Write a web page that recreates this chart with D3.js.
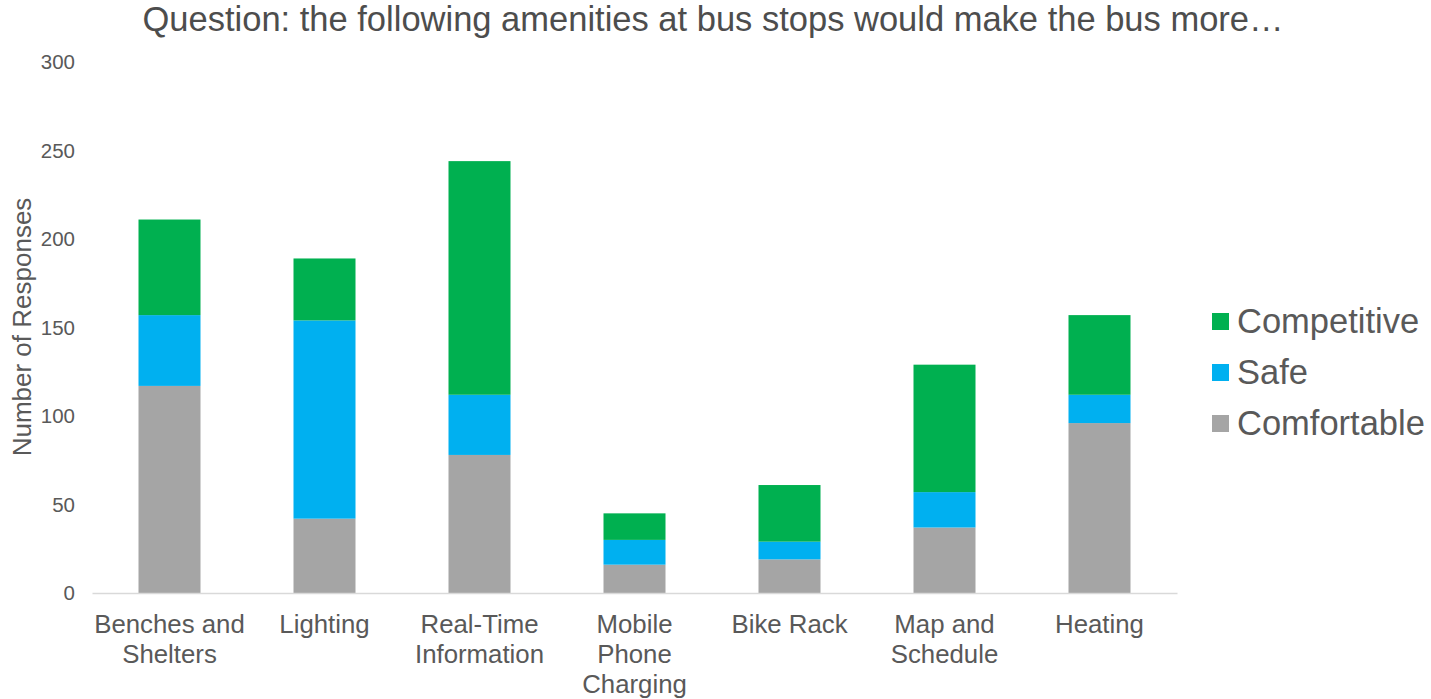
<!DOCTYPE html>
<html>
<head>
<meta charset="utf-8">
<script src="https://cdn.jsdelivr.net/npm/d3@7"></script>
<style>
  body { margin: 0; background: #fff; }
  svg { font-family: "Liberation Sans", Arial, sans-serif; }
</style>
</head>
<body>
<div id="chart"></div>
<script>
// data
const categories = ["Benches and Shelters", "Lighting", "Real-Time Information",
  "Mobile Phone Charging", "Bike Rack", "Map and Schedule", "Heating"];
const categoryLines = [["Benches and", "Shelters"], ["Lighting"], ["Real-Time", "Information"],
  ["Mobile", "Phone", "Charging"], ["Bike Rack"], ["Map and", "Schedule"], ["Heating"]];
const comfortable = [117, 42, 78, 16, 19, 37, 96];
const safe = [40, 112, 34, 14, 10, 20, 16];
const competitive = [54, 35, 132, 15, 32, 72, 45];
const seriesNames = ["Comfortable", "Safe", "Competitive"];
const seriesColors = ["#A5A5A5", "#00B0F0", "#00B050"];
const yTicks = [0, 50, 100, 150, 200, 250, 300];

const W = 1431, H = 699;
const margin = { top: 62, right: 254, bottom: 106, left: 92 };
const width = W - margin.left - margin.right,
    height = H - margin.top - margin.bottom;

const svg = d3.select("#chart")
  .append("svg")
    .attr("width", W)
    .attr("height", H);

// title
svg.append("text")
  .attr("x", 713)
  .attr("y", 31)
  .attr("text-anchor", "middle")
  .attr("fill", "#4d4d4d")
  .style("font-size", "34.5px")
  .text("Question: the following amenities at bus stops would make the bus more\u2026");

const g = svg.append("g")
  .attr("transform", `translate(${margin.left},${margin.top})`);

const table = categories.map((c, i) => ({
  cat: c, Comfortable: comfortable[i], Safe: safe[i], Competitive: competitive[i]
}));
const stacked = d3.stack().keys(seriesNames)(table);

// X axis
const x = d3.scaleBand()
  .range([0, width])
  .domain(categories)
  .paddingInner(0.6)
  .paddingOuter(0.3);

// Y axis
const y = d3.scaleLinear()
  .domain([0, 300])
  .range([height, 0]);

const yAxis = g.append("g")
  .call(d3.axisLeft(y).tickValues(yTicks).tickSize(0).tickPadding(17));
yAxis.select(".domain").remove();
yAxis.selectAll("text")
  .attr("fill", "#595959")
  .style("font-size", "20.5px");

// bars
g.selectAll("g.series")
  .data(stacked)
  .join("g")
    .attr("class", "series")
    .attr("fill", (d, i) => seriesColors[i])
  .selectAll("rect")
  .data(d => d)
  .join("rect")
    .attr("x", d => x(d.data.cat))
    .attr("y", d => y(d[1]))
    .attr("width", x.bandwidth())
    .attr("height", d => y(d[0]) - y(d[1]));

// baseline
const xAxis = g.append("g")
  .attr("transform", `translate(0, ${height})`)
  .call(d3.axisBottom(x).tickSize(0).tickFormat(""));
xAxis.select(".domain")
  .attr("stroke", "#d9d9d9")
  .attr("stroke-width", 1.5);

// wrapped category labels
g.selectAll("text.cat")
  .data(categories)
  .join("text")
    .attr("class", "cat")
    .attr("text-anchor", "middle")
    .attr("fill", "#595959")
    .style("font-size", "25.8px")
    .attr("transform", d => `translate(${x(d) + x.bandwidth() / 2}, ${height + 40})`)
  .selectAll("tspan")
  .data((d, i) => categoryLines[i])
  .join("tspan")
    .attr("x", 0)
    .attr("dy", (d, i) => i === 0 ? 0 : 30)
    .text(d => d);

// y title
svg.append("text")
  .attr("transform", "translate(31, 327) rotate(-90)")
  .attr("text-anchor", "middle")
  .attr("fill", "#595959")
  .style("font-size", "26px")
  .text("Number of Responses");

// legend
const legend = svg.append("g")
  .attr("transform", "translate(1212, 322)");
const legendItems = seriesNames.slice().reverse();
const legendColors = seriesColors.slice().reverse();
legend.selectAll("rect")
  .data(legendItems)
  .join("rect")
    .attr("x", 0)
    .attr("y", (d, i) => i * 51 - 9)
    .attr("width", 17)
    .attr("height", 17)
    .attr("fill", (d, i) => legendColors[i]);
legend.selectAll("text")
  .data(legendItems)
  .join("text")
    .attr("x", 25)
    .attr("y", (d, i) => i * 51 + 11)
    .attr("fill", "#595959")
    .style("font-size", "34.5px")
    .text(d => d);
</script>
</body>
</html>
